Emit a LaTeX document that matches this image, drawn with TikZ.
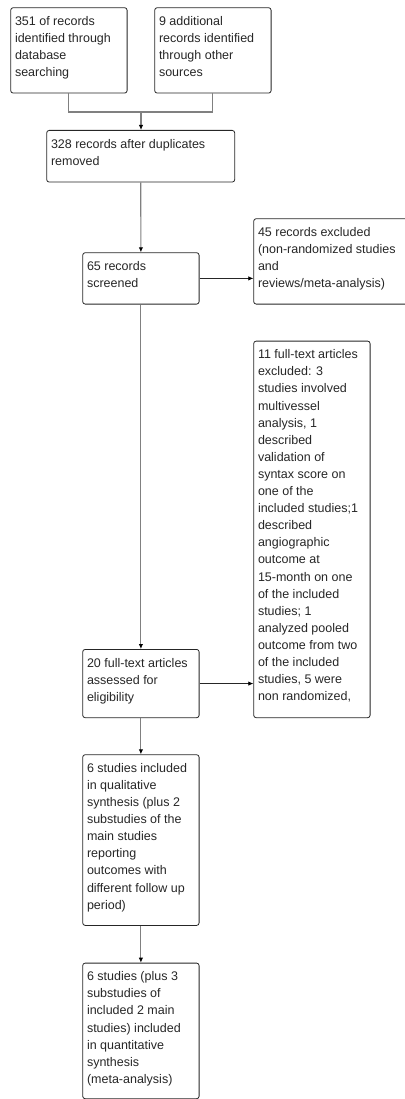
\documentclass[tikz,border=0pt]{standalone}
\usepackage{fontspec}
\setmainfont{Liberation Sans}
\usepackage{tikz}
\usetikzlibrary{positioning,calc,arrows.meta}
\definecolor{linkgray}{HTML}{808080}
\newcommand{\flowtext}[3]{%
  \begin{minipage}[t][\dimexpr#2pt-11.4pt\relax][t]{\dimexpr#1pt-8.6pt\relax}
    \fontsize{12.5}{17.1}\selectfont\raggedright\strut#3
  \end{minipage}}
\tikzset{
  flowbox/.style={draw=black!85,rounded corners=2.5pt,anchor=north west,
    inner xsep=4.3pt,inner ysep=5.7pt,text=black!85,line width=0.8pt},
  link/.style={draw=linkgray,line width=1.1pt},
  tolink/.style={link,-{Latex[length=5pt,width=4.5pt,color=black]}},
  sidelink/.style={draw=black!85,line width=0.8pt,
    -{Latex[length=5pt,width=4.5pt,color=black]}}
}

\begin{document}
\begin{tikzpicture}[x=1pt,y=-1pt]
    \useasboundingbox (0,0) rectangle (404,1099);
    \node (dbase) [flowbox] at (10.3,7.3)
      {\flowtext{116.4}{85.4}{351 of records\\identified through\\database\\searching}};
    \node (other) [flowbox] at (154.3,7.3)
      {\flowtext{116.4}{85.4}{9 additional\\records identified\\through other\\sources}};
    \node (dupl) [flowbox] at (46.3,130)
      {\flowtext{188}{51.7}{328 records after duplicates\\removed}};
    \node (screen) [flowbox] at (82.3,252.3)
      {\flowtext{116.4}{51.4}{65 records\\screened}};
    \node (excl) [flowbox] at (253.3,218.3)
      {\flowtext{160}{85.4}{45 records excluded\\(non-randomized studies\\and\\reviews/meta-analysis)}};
    \node (ftexcl) [flowbox] at (253.3,340.7)
      {\flowtext{116.4}{376.6}{11 full-text articles\\excluded: 3\\studies involved\\multivessel\\analysis, 1\\described\\validation of\\syntax score on\\one of the\\included studies;1\\described\\angiographic\\outcome at\\15-month on one\\of the included\\studies; 1\\analyzed pooled\\outcome from two\\of the included\\studies, 5 were\\non randomized,}};
    \node (elig) [flowbox] at (82.3,649)
      {\flowtext{116.4}{68.3}{20 full-text articles\\assessed for\\eligibility}};
    \node (qual) [flowbox] at (82.3,754.3)
      {\flowtext{116.4}{170.7}{6 studies included\\in qualitative\\synthesis (plus 2\\substudies of the\\main studies\\reporting\\outcomes with\\different follow up\\period)}};
    \node (quant) [flowbox] at (82.3,962.7)
      {\flowtext{116.4}{135.6}{6 studies (plus 3\\substudies of\\included 2 main\\studies) included\\in quantitative\\synthesis\\(meta-analysis)}};
    \coordinate (join) at (141,112);
    \draw[link] (dbase.south) |- (join) -| (other.south);
    \draw[tolink] (join) -- (join |- dupl.north);
    \draw[tolink] (dupl.south) -- (screen.north);
    \draw[sidelink] (screen.east) -- (screen.east -| excl.west);
    \draw[tolink] (screen.south) -- (elig.north);
    \draw[sidelink] (elig.east) -- (elig.east -| ftexcl.west);
    \draw[tolink] (elig.south) -- (qual.north);
    \draw[tolink] (qual.south) -- (quant.north);
  \end{tikzpicture}
\end{document}
